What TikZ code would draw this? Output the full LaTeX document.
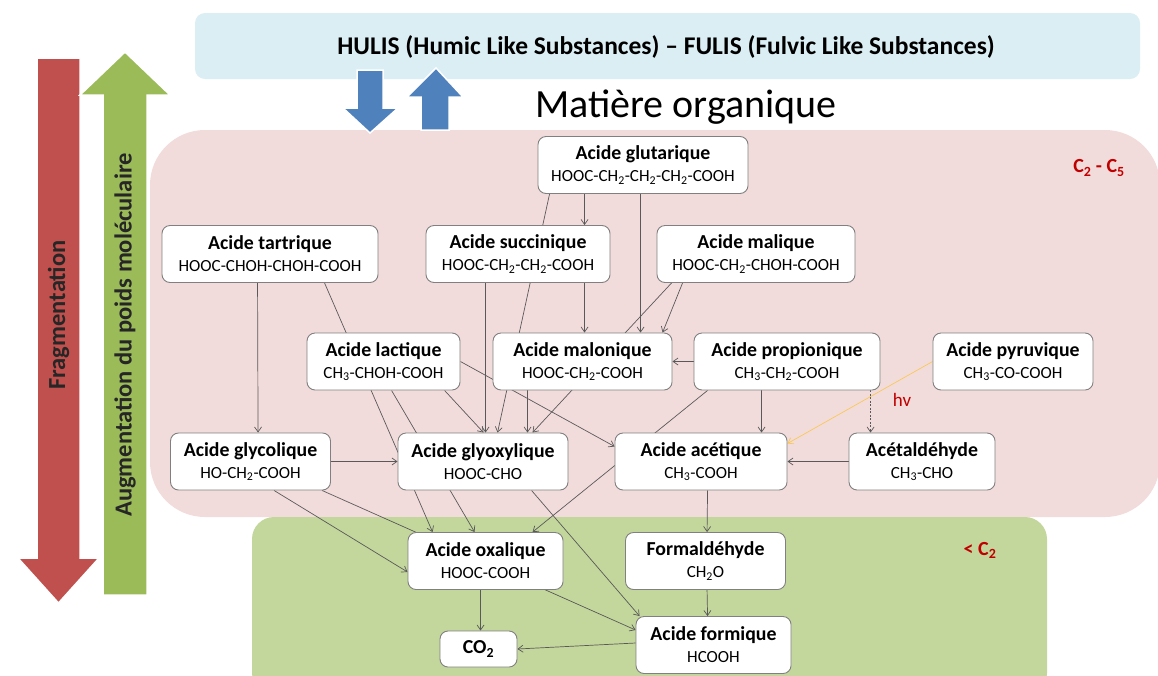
\documentclass[tikz,border=0pt]{standalone}
\usepackage{fontspec}
\setmainfont{Carlito}
\usetikzlibrary{arrows.meta}
\definecolor{hulisblue}{HTML}{DBEEF4}
\definecolor{orgpink}{HTML}{F2DCDB}
\definecolor{lowgreen}{HTML}{C3D69B}
\definecolor{arrowblue}{HTML}{4F81BD}
\definecolor{fragred}{HTML}{C0504D}
\definecolor{augmgreen}{HTML}{9BBB59}
\definecolor{labelred}{HTML}{C00000}
\definecolor{hvorange}{HTML}{FAC858}
\definecolor{edgegray}{HTML}{595959}
\pgfdeclarelayer{bg}
\pgfdeclarelayer{edges}
\pgfsetlayers{bg,edges,main}
\newcommand{\molname}[1]{{\fontsize{19.8}{23}\selectfont\bfseries #1}}
\tikzset{
  mol/.style={draw=black!50, line width=0.9pt, fill=white, rounded corners=8pt,
    align=center, inner sep=0pt, minimum height=57pt, font=\fontsize{17}{20}\selectfont},
  conn/.style={draw=edgegray, line width=0.7pt, -{Straight Barb[length=5pt,width=7pt]}},
  blockarrow/.style={draw=white, line width=1.5pt},
  redlabel/.style={text=labelred, font=\fontsize{20}{23}\selectfont\bfseries},
  arrowtext/.style={rotate=90, text=black!85, font=\fontsize{24.5}{28}\selectfont\bfseries},
}
\begin{document}
\begin{tikzpicture}[x=1pt,y=-1pt]
    \useasboundingbox (0,0) rectangle (1158,675);
    \begin{pgfonlayer}{bg}
        \fill[hulisblue, rounded corners=10pt] (195,13) rectangle (1140,79);
        \fill[orgpink, rounded corners=55pt] (150,130) rectangle (1160,517);
        \fill[lowgreen, rounded corners=22pt] (252,517) rectangle (1047,695);
    \end{pgfonlayer}
    \filldraw[fill=arrowblue, blockarrow] (357,70) -- (383,70) -- (383,108) -- (398,108) -- (370,133) -- (343,108) -- (357,108) -- cycle;
    \filldraw[fill=arrowblue, blockarrow] (421,130) -- (449,130) -- (449,97) -- (463,97) -- (436,68) -- (407,97) -- (421,97) -- cycle;
    \filldraw[fill=fragred, blockarrow] (37,58) -- (80,58) -- (80,558) -- (99,558) -- (58.5,603) -- (18,558) -- (37,558) -- cycle;
    \filldraw[fill=augmgreen, blockarrow] (103,595) -- (147,595) -- (147,95) -- (170,95) -- (125,52) -- (80,95) -- (103,95) -- cycle;
    \node[arrowtext] (fragtxt) at (58.5,315) {Fragmentation};
    \node[arrowtext] (augtxt) at (125,335) {Augmentation du poids moléculaire};
    \node[font=\fontsize{25.5}{30}\selectfont\bfseries] (hulis) at (666,47) {HULIS (Humic Like Substances) – FULIS (Fulvic Like Substances)};
    \node[font=\fontsize{40}{46}\selectfont] (matorg) at (686,107) {Matière organique};
    \node[redlabel] (c2c5) at (1099,168) {C\textsubscript{2} - C\textsubscript{5}};
    \node[redlabel] (lowc2) at (980,550) {< C\textsubscript{2}};
    \node[text=labelred, font=\fontsize{19}{22}\selectfont] (hv) at (902,400) {hv};

    \node[mol, minimum width=210pt] (glut) at (643,165) {\molname{Acide glutarique}\\[2pt]HOOC-CH\textsubscript{2}-CH\textsubscript{2}-CH\textsubscript{2}-COOH};
    \node[mol, minimum width=216pt] (tart) at (270,254) {\molname{Acide tartrique}\\[2pt]HOOC-CHOH-CHOH-COOH};
    \node[mol, minimum width=184pt] (succ) at (518,254) {\molname{Acide succinique}\\[2pt]HOOC-CH\textsubscript{2}-CH\textsubscript{2}-COOH};
    \node[mol, minimum width=198pt] (mali) at (756,254) {\molname{Acide malique}\\[2pt]HOOC-CH\textsubscript{2}-CHOH-COOH};
    \node[mol, minimum width=153pt] (lact) at (383.5,361.5) {\molname{Acide lactique}\\[2pt]CH\textsubscript{3}-CHOH-COOH};
    \node[mol, minimum width=179pt] (malo) at (582.5,361.5) {\molname{Acide malonique}\\[2pt]HOOC-CH\textsubscript{2}-COOH};
    \node[mol, minimum width=186pt] (prop) at (787,361.5) {\molname{Acide propionique}\\[2pt]CH\textsubscript{3}-CH\textsubscript{2}-COOH};
    \node[mol, minimum width=160pt] (pyru) at (1013,361.5) {\molname{Acide pyruvique}\\[2pt]CH\textsubscript{3}-CO-COOH};
    \node[mol, minimum width=160pt] (glyc) at (250.5,461.5) {\molname{Acide glycolique}\\[2pt]HO-CH\textsubscript{2}-COOH};
    \node[mol, minimum width=170pt] (glyo) at (483,461.5) {\molname{Acide glyoxylique}\\[2pt]HOOC-CHO};
    \node[mol, minimum width=172pt] (acet) at (701,461.5) {\molname{Acide acétique}\\[2pt]CH\textsubscript{3}-COOH};
    \node[mol, minimum width=146pt] (acal) at (922,461.5) {\molname{Acétaldéhyde}\\[2pt]CH\textsubscript{3}-CHO};
    \node[mol, minimum width=155pt] (oxal) at (485.5,561) {\molname{Acide oxalique}\\[2pt]HOOC-COOH};
    \node[mol, minimum width=160pt] (form) at (705.5,561) {\molname{Formaldéhyde}\\[2pt]CH\textsubscript{2}O};
    \node[mol, minimum width=155pt] (fmiq) at (713.5,645) {\molname{Acide formique}\\[2pt]HCOOH};
    \node[mol, minimum width=77pt, minimum height=36pt] (co2) at (478.5,649) {\molname{CO\textsubscript{2}}};

    \begin{pgfonlayer}{edges}
        \draw[conn] ([xshift=12pt]glut.south west) -- ([xshift=100pt]glyo.north west);
        \draw[conn] ([xshift=47pt]glut.south west) -- ([xshift=159pt]succ.north west);
        \draw[conn] ([xshift=103pt]glut.south west) -- ([xshift=148pt]malo.north west);
        \draw[conn] ([xshift=159pt]succ.south west) -- ([xshift=92pt]malo.north west);
        \draw[conn] ([xshift=60pt]succ.south west) -- ([xshift=88pt]glyo.north west);
        \draw[conn] ([xshift=15pt]mali.south west) -- ([xshift=135pt]glyo.north west);
        \draw[conn] ([xshift=26pt]mali.south west) -- ([xshift=170pt]malo.north west);
        \draw[conn] ([xshift=35pt]malo.south west) -- ([xshift=130pt]glyo.north west);
        \draw[conn] ([xshift=96pt]tart.south west) -- ([xshift=88pt]glyc.north west);
        \draw[conn] ([xshift=163pt]tart.south west) -- ([xshift=25pt]oxal.north west);
        \draw[conn] ([xshift=85pt]lact.south west) -- ([xshift=67pt]oxal.north west);
        \draw[conn] ([xshift=138pt]lact.south west) -- ([xshift=86pt]glyo.north west);
        \draw[conn] (lact.east) -- ([yshift=15pt]acet.west);
        \draw[conn] (glyc.east) -- (glyo.west);
        \draw[conn] ([xshift=104pt]glyc.south west) -- ([yshift=-11pt]oxal.west);
        \draw[conn] ([xshift=152pt]glyc.south west) -- ([yshift=15pt]fmiq.west);
        \draw[conn] ([xshift=134pt]glyo.south west) -- ([xshift=4pt]fmiq.north west);
        \draw[conn] (prop.west) -- (malo.east);
        \draw[conn] ([xshift=68pt]prop.south west) -- ([xshift=147pt]acet.north west);
        \draw[conn] ([xshift=14pt]prop.south west) -- ([xshift=125pt]oxal.north west);
        \draw[conn, dash pattern=on 2pt off 1.5pt] ([xshift=177pt]prop.south west) -- ([xshift=22pt]acal.north west);
        \draw[conn, draw=hvorange] (pyru.west) -- ([yshift=18pt]acet.east);
        \draw[conn] (acal.west) -- (acet.east);
        \draw[conn] ([xshift=93pt]acet.south west) -- ([xshift=82pt]form.north west);
        \draw[conn] ([xshift=82pt]form.south west) -- ([xshift=72pt]fmiq.north west);
        \draw[conn] ([xshift=73pt]oxal.south west) -- ([xshift=41pt]co2.north west);
        \draw[conn] ([yshift=2pt]fmiq.west) -- (co2.east);
    \end{pgfonlayer}
\end{tikzpicture}
\end{document}
